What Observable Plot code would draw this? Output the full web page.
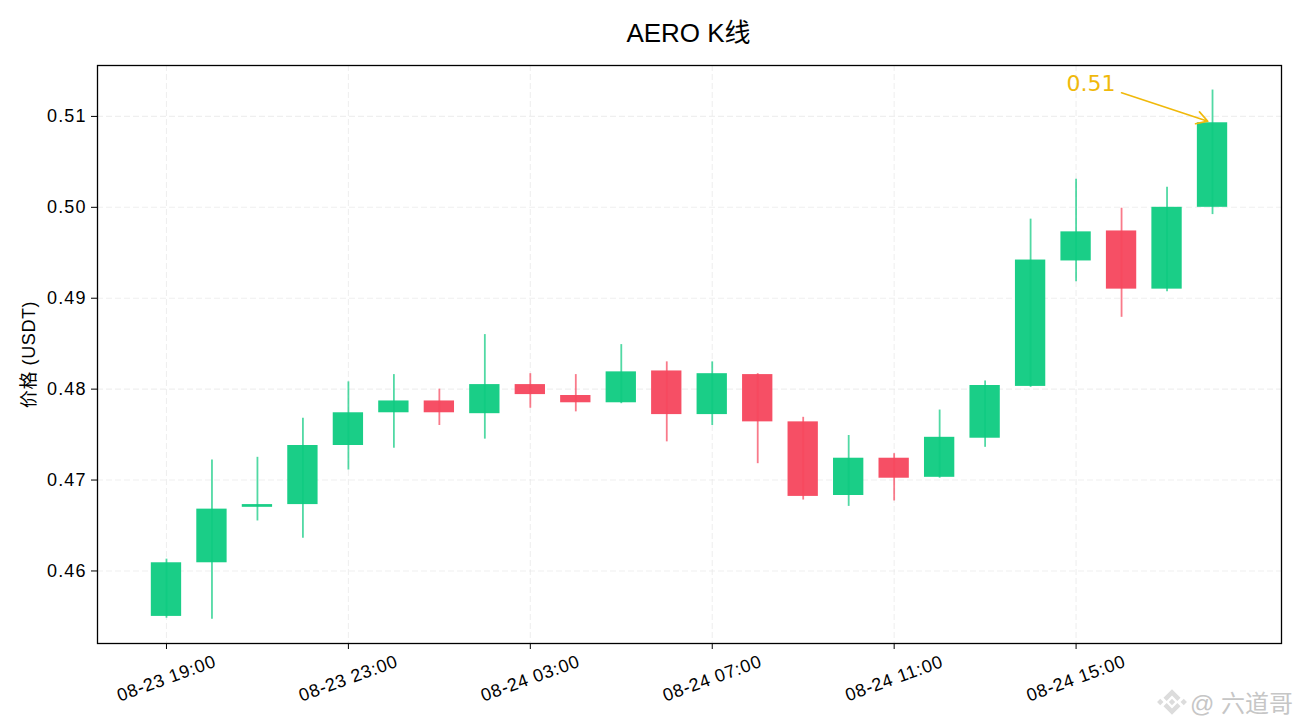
<!DOCTYPE html>
<html><head><meta charset="utf-8">
<script src="https://cdn.jsdelivr.net/npm/d3@7"></script>
<script src="https://cdn.jsdelivr.net/npm/@observablehq/plot@0.6"></script>
<style>
html,body{margin:0;padding:0;background:#fff;width:1300px;height:728px;overflow:hidden;position:relative}
#title{font:26px "Liberation Sans","Noto Sans CJK SC",sans-serif;text-align:center;padding-left:77px;padding-top:18px;box-sizing:border-box;color:#000;height:50px;line-height:30px}
#mark{position:absolute;right:7px;top:684px;display:flex;align-items:center;gap:2px;color:#c6c6c6;font:24px "Liberation Sans","Noto Sans CJK SC",sans-serif}
[aria-label="y-axis tick label"] text{letter-spacing:1.1px}
[aria-label="x-axis tick label"] text{letter-spacing:.7px}
[aria-label="y-axis label"] text{letter-spacing:.6px}
</style></head><body>
<div id="title">AERO K线</div>
<div id="plot"></div>
<div id="mark"><svg width="32" height="30" viewBox="-15 -14 30 28"><g fill="#dcdcdc"><path d="M0-12 8-4 5-1 0-6-5-1-8-4Z"/><path d="M0 12 8 4 5 1 0 6-5 1-8 4Z"/><path d="M-11-3-8 0-11 3-14 0Z"/><path d="M11-3 14 0 11 3 8 0Z"/><path d="M0-3 3 0 0 3-3 0Z"/></g></svg><span>@ 六道哥</span></div>
<script>
const times = ["2024-08-23T19:00Z","2024-08-23T20:00Z","2024-08-23T21:00Z","2024-08-23T22:00Z","2024-08-23T23:00Z","2024-08-24T00:00Z","2024-08-24T01:00Z","2024-08-24T02:00Z","2024-08-24T03:00Z","2024-08-24T04:00Z","2024-08-24T05:00Z","2024-08-24T06:00Z","2024-08-24T07:00Z","2024-08-24T08:00Z","2024-08-24T09:00Z","2024-08-24T10:00Z","2024-08-24T11:00Z","2024-08-24T12:00Z","2024-08-24T13:00Z","2024-08-24T14:00Z","2024-08-24T15:00Z","2024-08-24T16:00Z","2024-08-24T17:00Z","2024-08-24T18:00Z"].map(d => new Date(d));
const opens  = [0.4550,0.4609,0.4670,0.4673,0.4738,0.4774,0.4787,0.4773,0.4805,0.4793,0.4785,0.4820,0.4772,0.4816,0.4764,0.4683,0.4724,0.4703,0.4746,0.4803,0.4941,0.4974,0.4910,0.5000];
const closes = [0.4609,0.4668,0.4673,0.4738,0.4774,0.4787,0.4774,0.4805,0.4794,0.4785,0.4819,0.4772,0.4817,0.4764,0.4682,0.4724,0.4702,0.4747,0.4804,0.4942,0.4973,0.4910,0.5000,0.5093];
const highs  = [0.4613,0.4722,0.4725,0.4768,0.4808,0.4816,0.4800,0.4860,0.4817,0.4816,0.4849,0.4830,0.4830,0.4817,0.4769,0.4749,0.4729,0.4777,0.4809,0.4987,0.5031,0.4999,0.5022,0.5129];
const lows   = [0.4548,0.4547,0.4655,0.4636,0.4711,0.4735,0.4760,0.4745,0.4779,0.4775,0.4784,0.4742,0.4760,0.4718,0.4678,0.4671,0.4677,0.4702,0.4736,0.4802,0.4918,0.4879,0.4907,0.4992];
const xTicks = [times[0],times[4],times[8],times[12],times[16],times[20]];
const yTicks = [0.46,0.47,0.48,0.49,0.50,0.51];
const xDomain = [new Date("2024-08-23T17:29Z"), new Date("2024-08-24T19:31Z")];
const yDomain = [0.45202, 0.5156];
const up = "#0ecb81", down = "#f6465d", gold = "#f0b90b";
const candles = times.map((t,i)=>({t,open:opens[i],close:closes[i],high:highs[i],low:lows[i],
  a:d3.utcMinute.offset(t,-20),b:d3.utcMinute.offset(t,20),color:closes[i]>=opens[i]?up:down}));
const note = {label:"0.51",from:new Date("2024-08-24T16:00Z"),fromY:0.5126,to:times[23],toY:0.5093,textY:0.5136};
const font = '"Liberation Sans","Noto Sans CJK SC",sans-serif';
const chart = Plot.plot({
  width:1300,height:678,marginLeft:97,marginRight:19,marginTop:15,marginBottom:85,
  style:{fontFamily:font,fontSize:"18px",color:"#000",background:"#fff"},
  x:{type:"utc",domain:xDomain},
  y:{domain:yDomain},
  marks:[
    Plot.gridX(xTicks,{stroke:"#e4e4e4",strokeOpacity:0.6,strokeWidth:1.1,strokeDasharray:"6,3"}),
    Plot.gridY(yTicks,{stroke:"#e4e4e4",strokeOpacity:0.6,strokeWidth:1.1,strokeDasharray:"6,3"}),
    Plot.rect(candles,{x1:"a",x2:"b",y1:"open",y2:"close",fill:"color",fillOpacity:0.95}),
    Plot.ruleX(candles,{x:"t",y1:"low",y2:"high",stroke:"color",strokeWidth:1.8,strokeOpacity:0.72}),
    Plot.axisY({ticks:yTicks,tickFormat:".2f",tickSize:6,tickPadding:5,label:"价格 (USDT)",labelAnchor:"center",labelArrow:"none",labelOffset:75,stroke:"#000",fontSize:18}),
    Plot.axisX({ticks:xTicks,tickFormat:d3.utcFormat("%m-%d %H:%M"),tickSize:6,tickRotate:-20,textAnchor:"middle",tickPadding:29,label:null,stroke:"#000",fontSize:18}),
    Plot.frame({stroke:"#000",strokeWidth:1.3}),
    Plot.arrow([note],{x1:"from",y1:"fromY",x2:"to",y2:"toY",stroke:gold,strokeWidth:1.7,bend:0,headLength:11,insetEnd:5}),
    Plot.text([note],{x:"from",y:"textY",text:"label",fill:gold,textAnchor:"end",dx:-6,fontSize:22,fontFamily:"DejaVu Sans"})
  ]
});
document.getElementById("plot").append(chart);
</script></body></html>
